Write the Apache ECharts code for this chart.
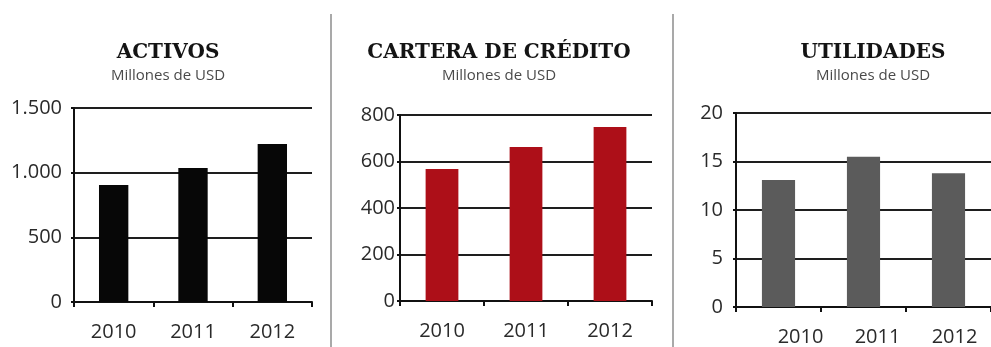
<!DOCTYPE html>
<html>
<head>
<meta charset="utf-8">
<script src="https://cdn.jsdelivr.net/npm/echarts@6/dist/echarts.min.js"></script>
<style>
  html, body { margin: 0; padding: 0; background: #ffffff; }
  #chart { width: 991px; height: 347px; }
</style>
</head>
<body>
<div id="chart"></div>
<script>
// Years shown on every panel
const years = ['2010', '2011', '2012'];

// Values in millions of USD
const activos = [905, 1036, 1222];
const cartera = [568, 662, 748];
const utilidades = [13.1, 15.5, 13.8];

// Panel headings
const titles = ['ACTIVOS', 'CARTERA DE CRÉDITO', 'UTILIDADES'];
const unitLabel = 'Millones de USD';

const labelFont = '"Open Sans", "DejaVu Sans", sans-serif';
const titleFont = '"DejaVu Serif", "Liberation Serif", serif';
const labelSize = 20;

function thousands(v) {
  return String(v).replace(/\B(?=(\d{3})+(?!\d))/g, '.');
}

function xAxisFor(gridIndex, labelExtra) {
  return {
    type: 'category',
    gridIndex: gridIndex,
    data: years,
    boundaryGap: true,
    axisLine: { show: true, lineStyle: { color: '#111', width: 2 } },
    axisTick: { show: true, length: 5, lineStyle: { color: '#111', width: 2 } },
    axisLabel: Object.assign({
      interval: 0, hideOverlap: false,
      color: '#2a2a2a', fontFamily: labelFont, fontSize: labelSize, margin: 20
    }, labelExtra || {})
  };
}

function yAxisFor(gridIndex, max, interval, margin, formatter) {
  return {
    type: 'value',
    gridIndex: gridIndex,
    min: 0,
    max: max,
    interval: interval,
    axisLine: { show: true, lineStyle: { color: '#111', width: 2 } },
    axisTick: { show: true, length: 3, lineStyle: { color: '#111', width: 2 } },
    splitLine: { show: true, lineStyle: { color: '#1e1e1e', width: 2 } },
    axisLabel: {
      color: '#2a2a2a', fontFamily: labelFont, fontSize: labelSize, margin: margin,
      formatter: formatter
    }
  };
}

// Year labels of the third panel sit a little right of their bars
const yearStyle = { fontSize: labelSize, fontFamily: labelFont, color: '#2a2a2a' };
const shiftedYearLabels = {
  formatter: function (v, i) { return '{s' + i + '|' + v + '}'; },
  rich: {
    s0: Object.assign({ padding: [0, 0, 0, 44] }, yearStyle),
    s1: Object.assign({ padding: [0, 0, 0, 28] }, yearStyle),
    s2: Object.assign({ padding: [0, 0, 0, 12] }, yearStyle)
  },
  margin: 20
};

function heading(cx, text) {
  return [
    {
      type: 'text', x: cx, y: 53, silent: true,
      style: {
        text: text, fill: '#141414',
        font: 'bold 20px ' + titleFont,
        textAlign: 'center', textVerticalAlign: 'middle'
      }
    },
    {
      type: 'text', x: cx, y: 76, silent: true,
      style: {
        text: unitLabel, fill: '#4a4a4a',
        font: '15px ' + labelFont,
        textAlign: 'center', textVerticalAlign: 'middle'
      }
    }
  ];
}

const chart = echarts.init(document.getElementById('chart'), null, { renderer: 'canvas' });

chart.setOption({
  animation: false,
  backgroundColor: '#ffffff',
  grid: [
    { left: 74, top: 108, width: 238, height: 194 },
    { left: 400, top: 115, width: 252, height: 186 },
    { left: 736, top: 113, width: 258, height: 194 }
  ],
  xAxis: [
    xAxisFor(0),
    xAxisFor(1),
    xAxisFor(2, shiftedYearLabels)
  ],
  yAxis: [
    yAxisFor(0, 1500, 500, 12, thousands),
    yAxisFor(1, 800, 200, 5),
    yAxisFor(2, 20, 5, 13)
  ],
  series: [
    {
      type: 'bar', xAxisIndex: 0, yAxisIndex: 0, data: activos,
      barWidth: '37%', itemStyle: { color: '#070707' }
    },
    {
      type: 'bar', xAxisIndex: 1, yAxisIndex: 1, data: cartera,
      barWidth: '39%', itemStyle: { color: '#ad0f18' }
    },
    {
      type: 'bar', xAxisIndex: 2, yAxisIndex: 2, data: utilidades,
      barWidth: '39%', itemStyle: { color: '#5b5b5b' }
    }
  ],
  graphic: [].concat(
    heading(168, titles[0]),
    heading(499, titles[1]),
    heading(873, titles[2]),
    [
      { type: 'line', silent: true, shape: { x1: 331, y1: 14, x2: 331, y2: 347 },
        style: { stroke: '#8c8c8c', lineWidth: 1.5 } },
      { type: 'line', silent: true, shape: { x1: 673, y1: 14, x2: 673, y2: 347 },
        style: { stroke: '#8c8c8c', lineWidth: 1.5 } }
    ]
  )
});
</script>
</body>
</html>
